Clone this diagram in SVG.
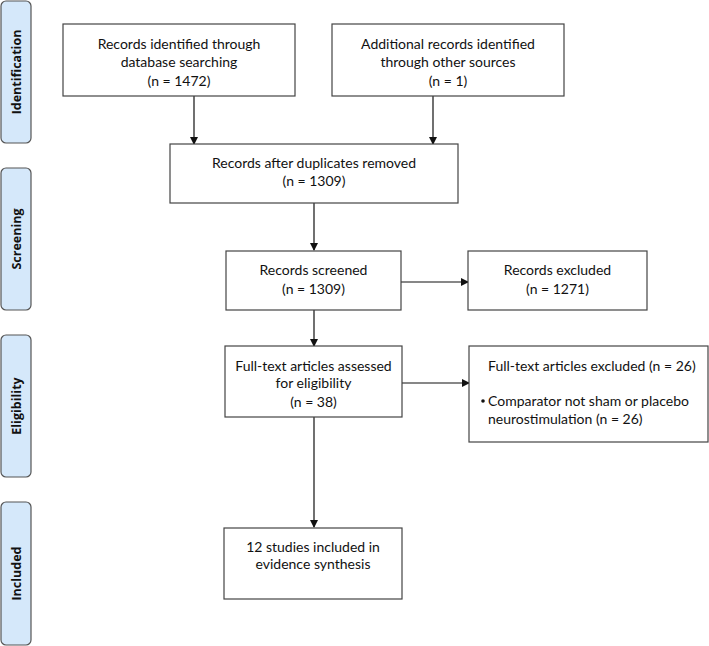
<svg xmlns="http://www.w3.org/2000/svg" width="709" height="646" viewBox="0 0 709 646">
<style>
.box{fill:#fff;stroke:#444;stroke-width:1.2}
.side{fill:#d5e8fa;stroke:#555;stroke-width:1.2}
.t{font-family:Lato,"Open Sans",sans-serif;font-size:14px;fill:#111;text-anchor:middle}
.tl{font-family:Lato,"Open Sans",sans-serif;font-size:14px;fill:#111}
.s{font-family:"Open Sans","Noto Sans",sans-serif;font-size:12.5px;font-weight:bold;fill:#111;text-anchor:middle}
.c{stroke:#111;stroke-width:1.2;fill:none;marker-end:url(#ah)}
</style>
<defs>
<marker id="ah" markerWidth="8" markerHeight="8" refX="7" refY="4" orient="auto" markerUnits="userSpaceOnUse">
<path d="M0,0 L8,4 L0,8 Z" fill="#111"/>
</marker>
</defs>
<rect width="709" height="646" fill="#fff"/>
<g id="side-identification"><rect class="side" x="1" y="1" width="30" height="142" rx="5"/><text class="s" transform="translate(20.5,72) rotate(-90)">Identification</text></g>
<g id="side-screening"><rect class="side" x="1" y="168" width="30" height="142" rx="5"/><text class="s" transform="translate(20.5,239) rotate(-90)">Screening</text></g>
<g id="side-eligibility"><rect class="side" x="1" y="335" width="30" height="142" rx="5"/><text class="s" transform="translate(20.5,406) rotate(-90)">Eligibility</text></g>
<g id="side-included"><rect class="side" x="1" y="502" width="30" height="143" rx="5"/><text class="s" transform="translate(20.5,573.5) rotate(-90)">Included</text></g>

<g id="connectors">
<line class="c" x1="194" y1="96" x2="194" y2="144"/>
<line class="c" x1="433" y1="96" x2="433" y2="144"/>
<line class="c" x1="314" y1="203" x2="314" y2="250"/>
<line class="c" x1="401" y1="282" x2="468" y2="282"/>
<line class="c" x1="314" y1="310" x2="314" y2="346"/>
<line class="c" x1="402" y1="383" x2="469" y2="383"/>
<line class="c" x1="314" y1="417" x2="314" y2="527"/>
</g>

<g id="n1"><rect class="box" x="63" y="24" width="232" height="72"/>
<text class="t" x="179" y="49">Records identified through</text>
<text class="t" x="179" y="67">database searching</text>
<text class="t" x="179" y="86">(n = 1472)</text></g>
<g id="n2"><rect class="box" x="332" y="24" width="232" height="72"/>
<text class="t" x="448" y="49">Additional records identified</text>
<text class="t" x="448" y="67">through other sources</text>
<text class="t" x="448" y="86">(n = 1)</text></g>
<g id="n3"><rect class="box" x="170" y="144" width="288" height="59"/>
<text class="t" x="314" y="168">Records after duplicates removed</text>
<text class="t" x="314" y="186">(n = 1309)</text></g>
<g id="n4"><rect class="box" x="226" y="251" width="175" height="59"/>
<text class="t" x="313.5" y="275">Records screened</text>
<text class="t" x="313.5" y="294">(n = 1309)</text></g>
<g id="n5"><rect class="box" x="468" y="251" width="179" height="59"/>
<text class="t" x="557.5" y="275">Records excluded</text>
<text class="t" x="557.5" y="294">(n = 1271)</text></g>
<g id="n6"><rect class="box" x="225" y="346" width="177" height="71"/>
<text class="t" x="313.5" y="371">Full-text articles assessed</text>
<text class="t" x="313.5" y="388">for eligibility</text>
<text class="t" x="313.5" y="407">(n = 38)</text></g>
<g id="n7"><rect class="box" x="469" y="346" width="239" height="96"/>
<text class="tl" x="488" y="371">Full-text articles excluded (n = 26)</text>
<circle cx="483" cy="401" r="1.8" fill="#111"/>
<text class="tl" x="488" y="406">Comparator not sham or placebo</text>
<text class="tl" x="488" y="424">neurostimulation (n = 26)</text></g>
<g id="n8"><rect class="box" x="224" y="528" width="178" height="71"/>
<text class="t" x="313" y="552">12 studies included in</text>
<text class="t" x="313" y="569">evidence synthesis</text></g>
</svg>
